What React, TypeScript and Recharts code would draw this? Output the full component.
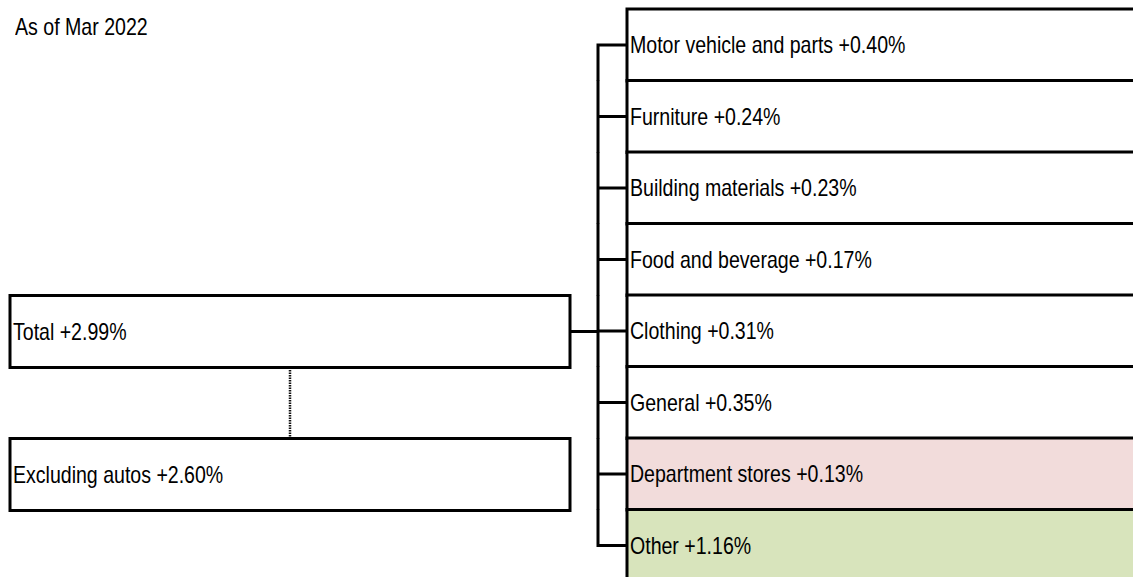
import React from 'react';
import { BarChart, Bar, XAxis, YAxis, LabelList } from 'recharts';

// retail sales contributions, as of Mar 2022
const categories = [
    'Motor vehicle and parts',
    'Furniture',
    'Building materials',
    'Food and beverage',
    'Clothing',
    'General',
    'Department stores',
    'Other',
];
const contributions = [0.4, 0.24, 0.23, 0.17, 0.31, 0.35, 0.13, 1.16];
const highlightFills: Record<string, string> = {
    'Department stores': '#F2DCDB',
    Other: '#D8E4BC',
};
const summaryLabels = ['Total', 'Excluding autos'];
const summaryValues = [2.99, 2.6];
// the row each summary box sits beside
const summaryRows = ['Clothing', 'Department stores'];
const subtitle = 'As of Mar 2022';

const W = 1133;
const LEFT_SPAN = [10, 570];
const RIGHT_SPAN = [627, W];
const TRUNK_X = 598;
const DOT_X = 290;
const FONT = '"Liberation Sans", Arial, sans-serif';
const NARROW = 0.815; // squeeze to look like Arial Narrow

const fmt = (v: number) => `+${v.toFixed(2)}%`;

const data = categories.map((name, i) => {
    const s = summaryRows.indexOf(name);
    return {
        name,
        row: i,
        right: RIGHT_SPAN,
        rightLabel: `${name} ${fmt(contributions[i])}`,
        fill: highlightFills[name] ?? '#FFFFFF',
        left: s >= 0 ? LEFT_SPAN : null,
        leftLabel: s >= 0 ? `${summaryLabels[s]} ${fmt(summaryValues[s])}` : '',
        summary: s,
    };
});

const RightBox = (props: any) => {
    const { x, y, width, height, payload } = props;
    const cy = y + height / 2;
    const last = categories.length - 1;
    let trunk = `M${TRUNK_X},${y}V${y + height}M${TRUNK_X},${cy}H${x}`;
    if (payload.row === 0) trunk = `M${x},${cy}H${TRUNK_X}V${y + height}`;
    if (payload.row === last) trunk = `M${TRUNK_X},${y}V${cy}H${x}`;
    return (
        <g>
            <rect x={x} y={y} width={width} height={height} fill={payload.fill} />
            <path
                d={`M${x + width + 5},${y}H${x}V${y + height}H${x + width + 5}`}
                fill="none"
                stroke="#000"
                strokeWidth={3}
            />
            <path d={trunk} fill="none" stroke="#000" strokeWidth={3} />
        </g>
    );
};

const LeftBox = (props: any) => {
    const { x, y, width, height, payload } = props;
    if (!payload.left) return null;
    const cy = y + height / 2;
    const next = summaryRows[payload.summary + 1];
    const gapRows = next ? categories.indexOf(next) - payload.row - 1 : 0;
    return (
        <g>
            {payload.summary === 0 && (
                <line x1={x + width} x2={TRUNK_X} y1={cy} y2={cy} stroke="#000" strokeWidth={3} />
            )}
            {next && (
                <line
                    x1={DOT_X}
                    x2={DOT_X}
                    y1={y + height}
                    y2={y + height + gapRows * height}
                    stroke="#111"
                    strokeWidth={2.5}
                    strokeDasharray="1.5 1"
                />
            )}
            <rect x={x} y={y} width={width} height={height} fill="#fff" stroke="#000" strokeWidth={3} />
        </g>
    );
};

const BoxLabel = (props: any) => {
    const { x, y, height, value } = props;
    if (!value) return null;
    return (
        <text
            transform={`translate(${x + 3},${y + height / 2 + 8}) scale(${NARROW},1)`}
            fontSize={24}
            fontFamily={FONT}
            fill="#000"
        >
            {value}
        </text>
    );
};

export default function App() {
    return (
        <div
            style={{
                position: 'fixed',
                left: 0,
                top: 0,
                width: W,
                height: 577,
                overflow: 'hidden',
                background: '#fff',
            }}
        >
            <div
                style={{
                    position: 'absolute',
                    left: 15,
                    top: 15,
                    fontFamily: FONT,
                    fontSize: 24,
                    lineHeight: '24px',
                    color: '#000',
                    whiteSpace: 'nowrap',
                    transform: `scaleX(${NARROW})`,
                    transformOrigin: 'left top',
                }}
            >
                {subtitle}
            </div>
            <BarChart
                width={W}
                height={590}
                data={data}
                layout="vertical"
                margin={{ top: 9, right: 0, bottom: 9, left: 0 }}
                barCategoryGap={0}
                barGap="-100%"
            >
                <XAxis type="number" domain={[0, W]} hide />
                <YAxis type="category" dataKey="name" hide width={0} />
                <Bar dataKey="right" shape={<RightBox />} isAnimationActive={false}>
                    <LabelList dataKey="rightLabel" content={<BoxLabel />} />
                </Bar>
                <Bar dataKey="left" shape={<LeftBox />} isAnimationActive={false}>
                    <LabelList dataKey="leftLabel" content={<BoxLabel />} />
                </Bar>
            </BarChart>
        </div>
    );
}
